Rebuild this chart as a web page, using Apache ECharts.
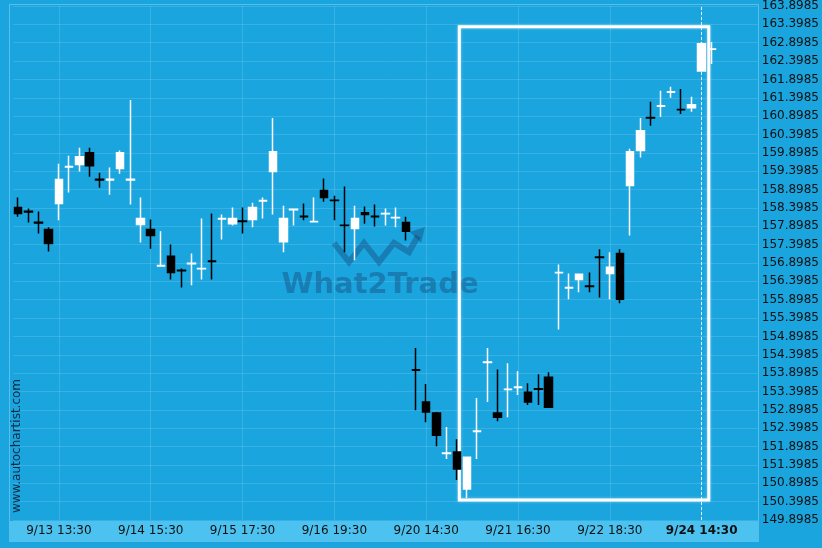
<!DOCTYPE html>
<html>
<head>
<meta charset="utf-8">
<script src="https://cdn.jsdelivr.net/npm/echarts@6/dist/echarts.min.js"></script>
<style>html,body{margin:0;padding:0;background:#1aa5df;}#c{width:822px;height:548px;}</style>
</head>
<body>
<div id="c"></div>
<script>
// ---- data ----
// each candle: [open, close, low, high]
const candles = [
  [158.41,158.25,158.16,158.68],[158.31,158.29,158.00,158.38],[158.01,157.99,157.70,158.30],[157.81,157.43,157.21,157.87],
  [158.52,159.17,158.06,159.60],[159.51,159.53,158.82,159.82],[159.58,159.79,159.39,160.04],[159.90,159.55,159.25,160.04],
  [159.18,159.16,158.95,159.36],[159.16,159.18,158.76,159.50],[159.47,159.90,159.33,159.96],[159.16,159.18,158.49,161.34],
  [157.95,158.11,157.46,158.68],[157.81,157.65,157.29,158.08],[156.82,156.83,156.81,157.76],[157.08,156.64,156.45,157.40],
  [156.70,156.69,156.23,156.75],[156.88,156.89,156.29,157.16],[156.74,156.75,156.45,158.11],[156.95,156.94,156.45,158.25],
  [158.10,158.11,157.54,158.22],[157.97,158.11,157.92,158.41],[158.04,158.03,157.70,158.41],[158.08,158.41,157.87,158.54],
  [158.59,158.60,158.11,158.68],[159.39,159.93,158.22,160.85],[157.48,158.11,157.19,158.46],[158.35,158.36,157.92,158.36],
  [158.17,158.16,158.06,158.52],[158.02,158.03,158.02,158.68],[158.87,158.68,158.57,159.20],[158.61,158.60,158.06,158.73],
  [157.93,157.92,157.19,158.98],[157.84,158.11,156.97,158.46],[158.27,158.22,157.97,158.44],[158.17,158.16,157.89,158.49],
  [158.24,158.25,157.92,158.38],[158.13,158.14,157.87,158.41],[158.00,157.76,157.51,158.16],[153.99,153.98,152.89,154.58],
  [153.11,152.84,152.56,153.60],[152.81,152.21,151.91,152.84],[151.71,151.72,151.56,152.43],[151.75,151.29,150.99,152.10],
  [150.74,151.61,150.50,151.62],[152.31,152.32,151.56,153.22],[154.19,154.20,153.11,154.58],[152.81,152.70,152.59,154.00],
  [153.45,153.46,152.70,154.17],[153.51,153.52,153.30,153.95],[153.38,153.11,153.03,153.62],[153.47,153.46,153.03,153.87],
  [153.79,152.97,152.96,153.92],[156.63,156.64,155.09,156.86],[156.22,156.23,155.91,156.61],[156.45,156.59,156.10,156.60],
  [156.27,156.26,156.10,156.64],[157.06,157.05,155.96,157.27],[156.61,156.78,155.91,157.19],[157.16,155.91,155.80,157.27],
  [159.01,159.93,157.65,160.01],[159.96,160.50,159.77,160.85],[160.86,160.85,160.64,161.29],[161.17,161.18,160.88,161.59],
  [161.55,161.56,161.40,161.70],[161.08,161.07,160.96,161.64],[161.13,161.21,161.02,161.43],[162.13,162.87,162.13,162.92],
  [162.72,162.73,162.32,162.92]
];
const tickIndex  = [4, 13, 22, 31, 40, 49, 58, 67];
const tickLabels = ['9/13 13:30','9/14 15:30','9/15 17:30','9/16 19:30','9/20 14:30','9/21 16:30','9/22 18:30','9/24 14:30'];
const futureSlots = 4;            // empty slots right of the last candle
const currentIndex = 67;          // dashed "now" line and bold label
const boxRange = { x0: 43.25, x1: 67.7, yTop: 163.33, yBottom: 150.44 }; // highlighted pattern box
const Y_MIN = 149.8985, Y_MAX = 163.8985, Y_STEP = 0.5;

// ---- build ----
const nCat = candles.length + futureSlots;
const categories = [];
for (let i = 0; i < nCat; i++) {
  const k = tickIndex.indexOf(i);
  categories.push(k >= 0 ? tickLabels[k] : 'c' + i);
}
const isTick = (i) => tickIndex.indexOf(i) >= 0;

const chart = echarts.init(document.getElementById('c'), null, {renderer: 'canvas'});
const FONT = 'DejaVu Sans';
const gridLine = 'rgba(255,255,255,0.13)';
const wm = 'rgba(20,60,105,0.38)';

chart.setOption({
  backgroundColor: '#1aa5df',
  animation: false,
  grid: { left: 13, right: 64, top: 5, bottom: 28, containLabel: false },
  xAxis: [{
    type: 'category',
    data: categories,
    boundaryGap: true,
    axisLine: { show: false },
    axisTick: { show: false, alignWithLabel: true, interval: (i) => isTick(i) },
    axisLabel: {
      interval: (i) => isTick(i),
      margin: 5,
      color: '#111',
      fontFamily: FONT,
      fontSize: 12,
      formatter: (v, i) => i === currentIndex ? '{b|' + v + '}' : v,
      rich: { b: { fontWeight: 'bold', fontSize: 12, color: '#111', fontFamily: FONT } }
    },
    splitLine: { show: true, alignWithLabel: true, interval: (i) => isTick(i), lineStyle: { color: gridLine, width: 1 } }
  }, {
    type: 'value',
    min: -0.5,
    max: nCat - 0.5,
    show: false
  }],
  yAxis: {
    type: 'value',
    position: 'right',
    min: Y_MIN, max: Y_MAX, interval: Y_STEP,
    axisLine: { show: false },
    axisTick: { show: false },
    axisLabel: {
      margin: 4,
      color: '#111',
      fontFamily: FONT,
      fontSize: 12,
      formatter: (v) => (Y_MIN + Math.round((v - Y_MIN) / Y_STEP) * Y_STEP).toFixed(4)
    },
    splitLine: { show: true, lineStyle: { color: gridLine, width: 1 } }
  },
  graphic: [
    { type: 'rect', z: -10, silent: true, shape: { x: 10, y: 521, width: 748, height: 20 }, style: { fill: '#4cc2f0' } },
    { type: 'rect', z: -9, silent: true, shape: { x: 9.5, y: 4.5, width: 749, height: 537 }, style: { fill: 'none', stroke: 'rgba(255,255,255,0.28)', lineWidth: 1 } },
    { type: 'text', z: 1, silent: true, x: 380, y: 285, style: { text: 'What2Trade', font: 'bold 29px "DejaVu Sans"', fill: wm, align: 'center', verticalAlign: 'middle' } },
    { type: 'polyline', z: 1, silent: true, shape: { points: [[334,243],[349,262],[364,243],[379,262],[394,243],[409,252],[418,236]] }, style: { stroke: wm, lineWidth: 6, fill: 'none', lineJoin: 'miter' } },
    { type: 'polygon', z: 1, silent: true, shape: { points: [[410,232],[425,227],[421,243]] }, style: { fill: wm } },
    { type: 'text', z: 1, silent: true, x: 17, y: 446, rotation: Math.PI / 2, style: { text: 'www.autochartist.com', font: '12px "DejaVu Sans"', fill: '#102a40', align: 'center', verticalAlign: 'middle' } }
  ],
  series: [{
    type: 'candlestick',
    data: candles,
    barWidth: 8,
    itemStyle: { color: '#ffffff', color0: '#000000', borderColor: '#ffffff', borderColor0: '#000000', borderWidth: 1.5 },
    markLine: {
      silent: true,
      symbol: ['none', 'none'],
      label: { show: false },
      lineStyle: { color: 'rgba(255,255,255,0.85)', type: [3, 2], width: 1 },
      data: [{ xAxis: currentIndex }]
    },
    z: 5
  }, {
    type: 'scatter',
    xAxisIndex: 1,
    data: [],
    markArea: {
      silent: true,
      label: { show: false },
      itemStyle: { color: 'rgba(0,0,0,0)', borderColor: '#ffffff', borderWidth: 3, shadowColor: 'rgba(255,255,255,0.5)', shadowBlur: 3 },
      data: [[{ coord: [boxRange.x0, boxRange.yTop] }, { coord: [boxRange.x1, boxRange.yBottom] }]]
    },
    z: 6
  }]
});
</script>
</body>
</html>
